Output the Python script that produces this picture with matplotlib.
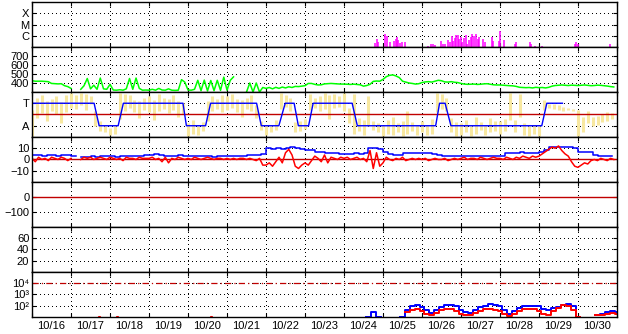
import numpy as np
import matplotlib
matplotlib.use('Agg')
import matplotlib.pyplot as plt
from matplotlib.ticker import NullLocator

plt.rcParams.update({'font.family': ['Liberation Sans', 'DejaVu Sans'],
                     'font.size': 8})

nan = np.nan

# ==============================================================================
# data, time in hours from 10/16 00:00
# ==============================================================================
day_labels = ['10/16', '10/17', '10/18', '10/19', '10/20', '10/21', '10/22',
              '10/23', '10/24', '10/25', '10/26', '10/27', '10/28', '10/29',
              '10/30']

# x-ray flares (C = 1, M = 2, X = 3)
flare_hours = [211.1, 212.1, 212.9, 217.4, 218.3, 220.1, 222.6, 223.8, 224.6,
               225.4, 226.3, 227.9, 229.5, 243.5, 245.3, 247.0, 248.0, 251.9,
               252.9, 254.2, 256.2, 257.2, 258.3, 259.1, 260.1, 261.1, 262.2,
               262.8, 263.8, 264.8, 266.0, 266.9, 267.9, 268.9, 270.0, 271.0,
               272.0, 273.0, 274.3, 275.3, 277.5, 278.6, 282.9, 283.7, 287.4,
               288.0, 290.7, 297.0, 297.8, 306.3, 306.9, 309.5, 313.7, 334.0,
               334.8, 335.8, 355.7]
flare_level = [0.35, 0.7, 0.45, 1.2, 1.0, 0.45, 0.5, 0.7, 0.9,
               0.6, 0.35, 0.4, 0.45, 0.1, 0.3, 0.25, 0.15, 0.5,
               0.3, 0.25, 0.6, 0.4, 1.0, 0.55, 0.8, 1.1, 1.05,
               0.7, 0.9, 0.45, 0.8, 1.1, 0.3, 0.6, 0.85, 1.2,
               1.0, 1.15, 0.7, 0.9, 0.75, 0.4, 0.9, 0.5, 0.5,
               1.4, 0.6, 0.3, 0.45, 0.4, 0.25, 0.1, 0.08, 0.3,
               0.45, 0.3, 0.3]

# solar wind speed, 2 hourly
vsw_hours = np.arange(0, 360, 2)
vsw = [425, 420, 420, 420, 418, 415, 395, 393, 390, 392, 370, 360,
       340, nan, nan, 330, 370, 450, 335, 375, 330, 455, 335, 330,
       385, 322, 320, 325, 320, 335, 450, 330, 455, 340, 320, 322,
       320, 330, 320, 340, 322, 320, 335, 320, 318, 320, 437, 410,
       322, 320, 330, 430, 315, 432, 312, 428, 315, 430, 318, 465,
       320, 430, 468, nan, nan, nan, 300, 400, 300, 400, 300, 350,
       340, 350, 335, 352, 340, 355, 345, 358, 350, 362, 360, 365,
       370, 395, 395, 385, 378, 380, 390, 392, 395, 392, 390, 388,
       388, 386, 384, 387, 383, 380, 365, 372, 385, 418, 422, 420,
       440, 470, 485, 490, 478, 460, 420, 410, 400, 395, 388, 392,
       405, 412, 415, 410, 420, 430, 425, 412, 410, 415, 408, 405,
       395, 388, 385, 386, 388, 384, 386, 390, 392, 386, 380, 378,
       378, 375, 372, 370, 368, 362, 352, 350, 348, 350, 345, 352,
       348, 350, 345, 352, 365, 372, 375, 378, 375, 372, 376, 374,
       372, 375, 378, 374, 370, 372, 376, 374, 370, 366, 360, 356]

# IMF angle spread (3 hourly) and sector polarity (T = 1, A = -1)
phi_hours = np.arange(0, 360, 3)
phi_lo = [-1.9, -0.3, 0.1, -0.6, 0.3, 0.0, -0.8, 0.2,
          0.6, 0.5, 0.8, 0.4, 0.9, -1.0, -1.5, -1.6,
          -1.8, -1.7, -0.4, 0.3, 0.6, 0.2, -0.3, 0.4,
          0.2, -0.5, 0.3, 0.5, 0.1, 0.4, -0.2, 0.0,
          -1.9, -1.7, -1.8, -1.5, -0.6, 0.3, 0.5, 0.2,
          0.4, 0.6, 0.2, -0.2, 0.5, 0.3, -0.3, -1.4,
          -1.8, -1.6, -1.4, 0.5, 0.7, 0.3, -1.6, -1.5,
          -1.3, 0.4, 0.6, 0.3, 0.5, -0.4, 0.6, 0.7,
          0.3, -0.8, -1.7, -1.5, -1.8, -1.0, -1.4, -1.6,
          -1.9, -1.7, -1.8, -1.6, -1.9, -1.7, -1.5, -1.8,
          -1.6, -1.8, -1.7, 0.2, 0.5, 0.3, -1.6, -1.9,
          -1.8, -1.6, -1.9, -1.7, -1.4, -1.8, -1.6, -1.5,
          -1.7, -1.5, -0.5, -1.6, -0.2, -1.8, -1.9, -1.7,
          -1.9, 0.4, 0.6, 0.5, 0.4, 0.3, 0.4, 0.3,
          -1.9, -1.6, -0.8, -1.0, -0.9, -0.7, -0.6, -0.4]
phi_hi = [0.4, 1.5, 1.7, 1.2, 1.4, 1.6, 1.1, 1.7,
          1.9, 1.7, 1.9, 1.8, 1.6, 0.3, -0.6, -1.0,
          -1.2, -1.0, 1.9, 1.8, 1.7, 1.3, 1.2, 1.5,
          1.6, 1.3, 1.8, 1.5, 1.4, 1.7, 1.2, 1.0,
          -0.8, -0.5, -1.0, -0.7, 1.2, 1.6, 1.4, 1.7,
          1.6, 1.8, 1.4, 1.3, 1.5, 1.7, 0.8, -0.6,
          -0.9, -1.0, -0.5, 1.9, 1.7, 1.5, -0.7, -0.6,
          -0.4, 1.8, 1.5, 1.6, 1.9, 1.7, 1.8, 1.6,
          1.9, 0.6, 1.8, -0.3, -0.5, 1.6, -0.6, -0.8,
          -0.9, -0.5, -0.2, -0.8, -0.6, 0.3, -0.7, -0.9,
          -0.6, -0.9, -0.4, 1.9, 1.8, 1.5, -0.3, -0.7,
          -0.8, -0.5, -1.0, -0.2, -0.7, -0.9, -0.3, -0.6,
          -0.6, -0.4, 1.9, -0.5, 1.8, -0.8, -1.0, -0.9,
          -1.0, 1.3, 0.9, 0.9, 0.8, 0.7, 0.6, 0.5,
          0.4, -0.2, 0.3, -0.2, -0.1, 0.0, 0.2, 0.1]
sector_hours = [0, 38.2, 41.3, 53.0, 56.2, 92.9, 95.0, 106.8, 109.9, 138.2,
                141.1, 151.9, 155.8, 161.3, 163.9, 170.2, 173.0, 197.0, 200.2,
                248.4, 250.8, 254.2, 257.8, 313.7, 316.8, 326.4]
sector = [1, 1, -1, -1, 1, 1, -1, -1, 1, 1,
          -1, -1, 1, 1, -1, -1, 1, 1, -1,
          -1, 1, 1, -1, -1, 1, 1]

# IMF Bt (3 hourly) and Bz (2 hourly), nT
bt_hours = np.arange(0, 360, 3)
bt = [4, 4, 3.5, 4, 4, 3.5, 4, 4,
      3.5, nan, 2.5, 2.5, 3, 2.5, 3, 3,
      3, 2.5, 3, 3.5, 3, 3, 3.5, 4,
      4, 4.5, 4, 3.5, 3, 3.5, 4, 3,
      3, 3, 3.5, 3, 3, 2.5, 3, 3,
      3, 3, 3, 3.5, 4, 4, 4, 4.5,
      10, 9.5, 10, 9, 10.5, 11, 10, 9,
      8.5, 8, 7, 7, 6, 5.5, 5.5, 5,
      5, 5, 5.5, 5, 6, 10.5, 10, 9,
      7, 5, 4, 4, 5.5, 5.5, 6, 5.5,
      5.5, 5.5, 5, 4, 3.5, 3.5, 3, 3,
      3, 3, 3.5, 3, 3, 3, 3, 3.5,
      3.5, 6, 6, 6, 6.5, 6, 6, 6,
      6.5, 8, 11.5, 11.5, 11, 11.5, 11, 10,
      7, 7, 6.5, 4, 3, 3, 3, 3]
bz_hours = np.arange(0, 360, 2)
bz = [1, -2, 2, 0, 1, -1, 2, 1, 0, 2, 1, -1,
      1, nan, nan, 0, 2, 1, 2, 0, 1, 2, 1, 0,
      2, 1, 0, 1, -1, 2, 1, 1, 0, 2, 1, 1,
      1, 2, 0, 1, -2, 2, -3, 1, 0, 2, 1, 0,
      1, 0, 2, 1, 0, 1, 2, 1, 0, 1, 1, 0,
      1, 0, 1, 0, 1, 1, 0, 1, 0, -1, 1, -5,
      -5, -3, -6, -2, 2, -3, 6, 9, 4, -6, -8, -5,
      -3, -5, -1, 3, 1, -2, 4, -3, 2, 1, 0, 2,
      1, 2, 0, 1, 2, 0, 1, -2, 8, -8, 6, -6,
      -3, 2, 0, -1, 1, 0, 2, -1, 0, 1, 0, 1,
      0, 1, -1, 0, 1, 0, 0, 1, -1, 0, 1, 0,
      1, 2, 0, 1, 1, 0, 2, 1, 0, 1, 2, 1,
      1, 0, 2, 1, 0, 2, 1, 3, 2, 1, 3, 2,
      3, 5, 7, 9, 11, 10, 12, 8, 5, 3, -2, -6,
      -7, -5, -3, -4, -1, 0, -1, 1, 0, -1, 1, 0]

# particle flux, 3 hourly from 10/24 12:00
flux_hours = np.arange(204, 361, 3)
flux_blue = [nan, 10, 30, 10, nan, nan, nan, nan,
             11, 40, 90, 117, 83, 40, 21, 40, 80, 117, 112, 89,
             40, 25, 22, 40, 80, 100, 132, 112, 95, 40, 18, 32,
             63, 89, 100, 100, 89, 56, 42, 63, 80, 112, 135, 89,
             10, nan, nan, nan, 14, 20, 28, 32, 28]
flux_red = [nan, nan, nan, nan, nan, nan, nan, nan,
            nan, 28, 45, 50, 35, 20, 15, 22, 40, 50, 48, 35,
            20, 15, 16, 22, 35, 48, 52, 45, 32, 20, 13, 20,
            35, 50, 56, 50, 35, 20, 16, 35, 63, 112, 100, 40,
            10, nan, nan, nan, 14, 16, 20, 22, 20]
flux_dot_hours = [41, 52, 110]
flux_dot = [11, 11, 11]
flux_ticks = [1e2, 1e3, 1e4]
flux_tick_labels = ['10\u00b2', '10\u00b3', '10\u2074']
alert_level = 1e4

# ==============================================================================
# plot
# ==============================================================================
dot_grid = dict(color='k', linestyle=(0, (1, 3)), linewidth=0.72,
                antialiased=False)
dark_red = '#C00000'

fig, axs = plt.subplots(7, 1, figsize=(6.28, 3.34), dpi=100)
fig.subplots_adjust(left=0.051, right=0.9825, top=0.994, bottom=0.051,
                    hspace=0)

ax = axs[0]
ax.vlines(np.array(flare_hours) / 24., 0, flare_level, color='#FF00FF',
          lw=1.1)
ax.set_ylim(0, 4)
ax.set_yticks([1, 2, 3], ['C', 'M', 'X'])

ax = axs[1]
ax.plot(vsw_hours / 24., vsw, color='#00FF00', lw=1.1)
ax.set_ylim(300, 800)
ax.set_yticks([400, 500, 600, 700])

ax = axs[2]
ax.vlines(phi_hours / 24., phi_lo, phi_hi, color='#F8E8A0', lw=2.2)
ax.axhline(0, color=dark_red, lw=1.0)
ax.plot(np.array(sector_hours) / 24., sector, color='#0000FF', lw=1.0)
ax.set_ylim(-2, 2)
ax.set_yticks([-1, 1], ['A', 'T'])

ax = axs[3]
ax.axhline(0, color=dark_red, lw=1.0)
ax.plot(bt_hours / 24., bt, color='#0000FF', lw=1.1, drawstyle='steps-post')
ax.plot(bz_hours / 24., bz, color='#FF0000', lw=1.1)
ax.set_ylim(-20, 20)
ax.set_yticks([-10, 0, 10])

ax = axs[4]
ax.axhline(0, color=dark_red, lw=1.0)
ax.set_ylim(-200, 100)
ax.set_yticks([-100, 0])

ax = axs[5]
ax.set_ylim(0, 80)
ax.set_yticks([20, 40, 60])

ax = axs[6]
ax.set_yscale('log')
ax.axhline(alert_level, color=dark_red, lw=0.9,
           linestyle=(0, (5, 2.5, 1, 2.5)))
ax.plot(flux_hours / 24., flux_blue, color='#0000FF', lw=1.4,
        drawstyle='steps-mid')
ax.plot(flux_hours / 24., flux_red, color='#FF0000', lw=1.4,
        drawstyle='steps-mid')
ax.plot(np.array(flux_dot_hours) / 24., flux_dot, 's', color='#FF0000',
        ms=1.2)
ax.set_ylim(10, 1e5)
ax.set_yticks(flux_ticks, flux_tick_labels)
ax.yaxis.set_minor_locator(NullLocator())

for i, ax in enumerate(axs):
    ax.set_xlim(0, 15)
    ax.set_xticks(np.arange(0, 16))
    ax.set_xticklabels([])
    ax.grid(True, which='major', **dot_grid)
    ax.tick_params(which='major', direction='in', length=3, width=0.8,
                   top=True, right=True, pad=2, colors='k')
    for sp in ax.spines.values():
        sp.set_linewidth(1.0)
    if i == len(axs) - 1:
        ax.set_xticks(np.arange(0.5, 15), day_labels, minor=True)
        ax.tick_params(which='minor', length=0, pad=3)

fig.savefig('out.png', dpi=100)
